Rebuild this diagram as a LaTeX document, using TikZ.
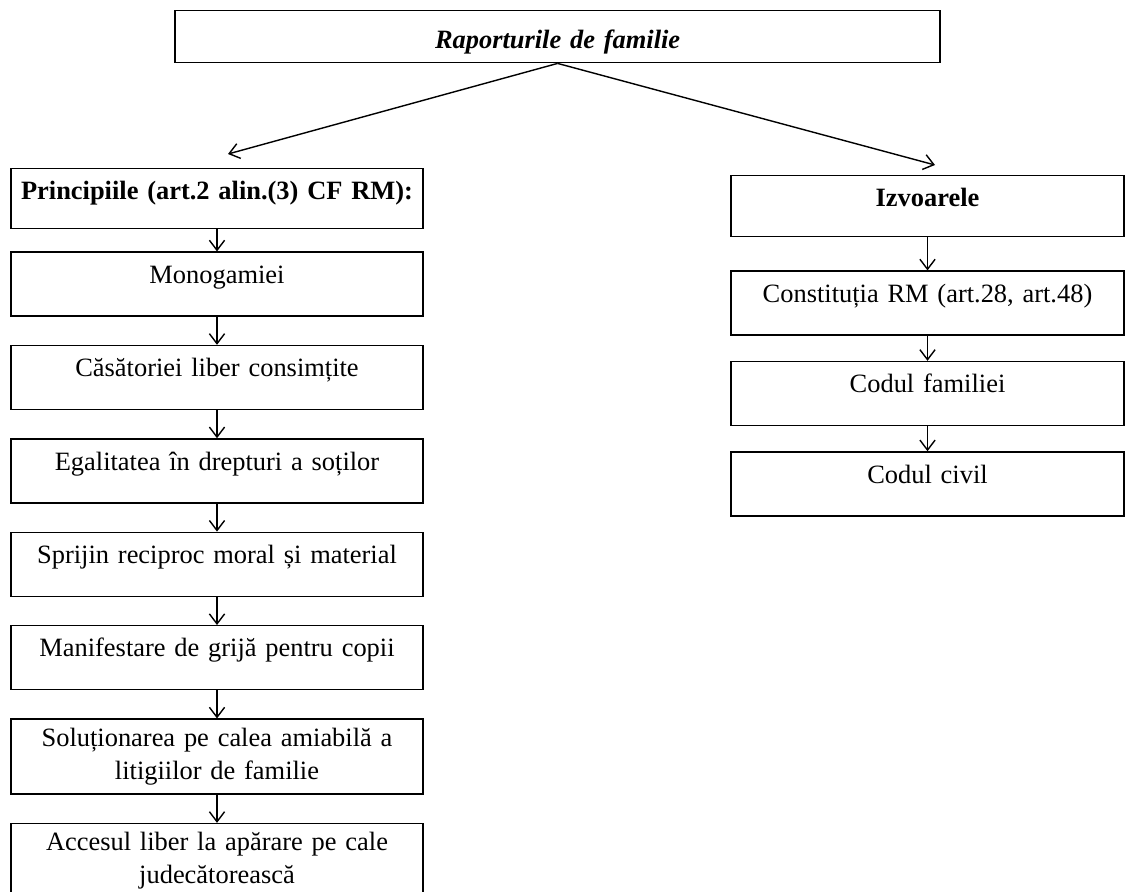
\documentclass[tikz,border=0pt]{standalone}
\usepackage{fontspec}
\setmainfont{Liberation Serif}
\usetikzlibrary{positioning,arrows.meta}
\begin{document}
\begin{tikzpicture}[
  node distance=0.7cm,
  box/.style={draw, line width=1pt, text width=10.1cm, inner xsep=0.1cm,
    inner ysep=0pt, align=center, font=\fontsize{18.8}{23.5}\selectfont},
  one/.style={box, text height=0.78cm, text depth=0.82cm},
  two/.style={box, minimum height=1.875cm},
  rone/.style={one, text width=9.625cm},
  arr/.style={-{Straight Barb[length=2.5mm,width=3.8mm]}, line width=1pt}
]
\useasboundingbox (0,0) rectangle (28.15,-22.275);
\node[box, text width=18.925cm, text height=0.95cm, text depth=0.35cm,
  font=\fontsize{18.8}{23.5}\selectfont\bfseries\itshape, anchor=north]
  (rap) at (13.94,-0.25) {Raporturile de familie};

\node[one, text depth=0.72cm, font=\fontsize{18.8}{23.5}\selectfont\bfseries,
  anchor=north] (princ) at (5.425,-4.2) {Principiile (art.2 alin.(3) CF RM):};
\node[one, below=0.55cm of princ] (mono) {Monogamiei};
\node[one, below=of mono] (cas) {Căsătoriei liber consimțite};
\node[one, below=of cas] (egal) {Egalitatea în drepturi a soților};
\node[one, below=of egal] (sprijin) {Sprijin reciproc moral și material};
\node[one, below=of sprijin] (grija) {Manifestare de grijă pentru copii};
\node[two, below=of grija] (litigii) {Soluționarea pe calea amiabilă a\\ litigiilor de familie};
\node[two, below=of litigii] (acces) {Accesul liber la apărare pe cale\\ judecătorească};

\node[rone, text depth=0.745cm, font=\fontsize{18.8}{23.5}\selectfont\bfseries,
  anchor=north] (izv) at (23.1875,-4.375) {Izvoarele};
\node[rone, below=0.825cm of izv] (const) {Constituția RM (art.28, art.48)};
\node[rone, below=0.625cm of const] (cf) {Codul familiei};
\node[rone, below=0.625cm of cf] (cc) {Codul civil};

\coordinate (tipL) at (5.7,-3.85);
\coordinate (tipR) at (23.375,-4.125);
\draw[arr] (rap.south) -- (tipL);
\draw[arr] (rap.south) -- (tipR);
\foreach \a/\b in {princ/mono, mono/cas, cas/egal, egal/sprijin,
  sprijin/grija, grija/litigii, litigii/acces, izv/const, const/cf, cf/cc}
  \draw[arr] (\a) -- (\b);
\end{tikzpicture}
\end{document}
